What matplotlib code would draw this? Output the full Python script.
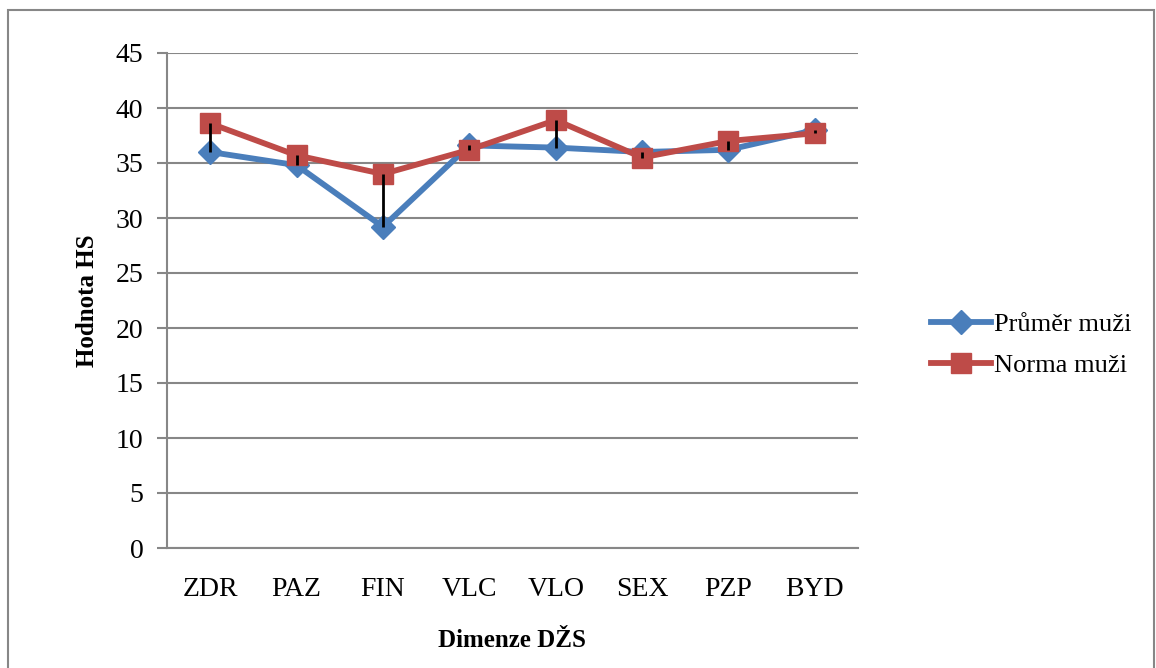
import matplotlib.pyplot as plt
from matplotlib.patches import Rectangle

dimenze = ["ZDR", "PAZ", "FIN", "VLC", "VLO", "SEX", "PZP", "BYD"]
prumer_muzi = [36.0, 34.8, 29.2, 36.6, 36.4, 36.0, 36.2, 38.0]
norma_muzi = [38.6, 35.7, 34.0, 36.2, 38.9, 35.5, 37.0, 37.7]

plt.rcParams["font.family"] = ["Liberation Serif", "DejaVu Serif"]

grid_col = "#878787"
blue = "#4A7EBB"
red = "#BE4B48"

fig = plt.figure(figsize=(11.56, 6.68), dpi=100)
ax = fig.add_axes([167 / 1156, 120 / 668, 691 / 1156, 495 / 668])

# frame around the whole chart
fig.patches.append(Rectangle((8 / 1156, -0.05), 1146 / 1156, 1.05 - 10 / 668,
                             transform=fig.transFigure, fill=False,
                             edgecolor=grid_col, lw=1.5))

x = range(len(dimenze))

# high-low lines between the two series
ax.vlines(x, [min(a, b) for a, b in zip(prumer_muzi, norma_muzi)],
          [max(a, b) for a, b in zip(prumer_muzi, norma_muzi)],
          color="black", lw=2, zorder=4)

ax.plot(x, prumer_muzi, color=blue, lw=4.2, marker="D", ms=12,
        label="Průměr muži", zorder=2)
ax.plot(x, norma_muzi, color=red, lw=4.2, marker="s", ms=15,
        label="Norma muži", zorder=3)

ax.set_xlim(-0.5, len(dimenze) - 0.5)
ax.set_ylim(0, 45)
ax.set_yticks(range(0, 46, 5))
ax.set_xticks(list(x))
ax.set_xticklabels(dimenze)
ax.yaxis.grid(True, color=grid_col, lw=1.5)
ax.set_axisbelow(True)

for s in ["top", "right"]:
    ax.spines[s].set_visible(False)
for s in ["left", "bottom"]:
    ax.spines[s].set_color(grid_col)
    ax.spines[s].set_linewidth(1.5)

ax.tick_params(axis="y", length=7, width=1.5, color=grid_col,
               labelsize=20, pad=10)
ax.tick_params(axis="x", length=0, labelsize=20, pad=21)

ax.set_ylabel("Hodnota HS", fontsize=18, fontweight="bold", labelpad=12)
ax.set_xlabel("Dimenze DŽS", fontsize=18, fontweight="bold", labelpad=19)

ax.legend(loc="center left", bbox_to_anchor=(1.09, 0.41), frameon=False,
          fontsize=19, handlelength=2.3, handletextpad=0.1, labelspacing=0.65,
          borderaxespad=0)

fig.savefig("out.png", dpi=100)
